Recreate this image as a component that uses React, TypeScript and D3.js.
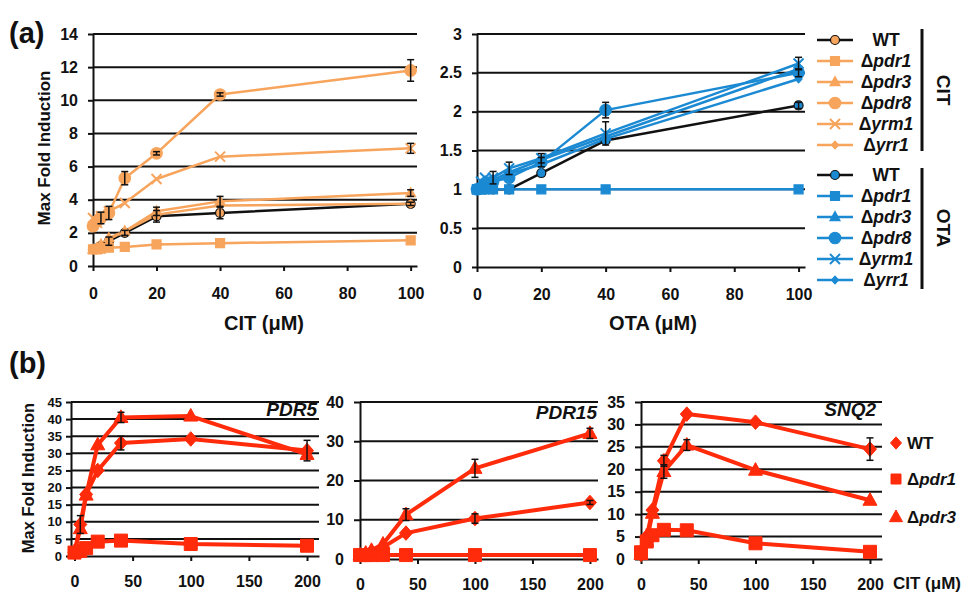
import React, { useEffect, useRef } from 'react';
import * as d3 from 'd3';

const FONT = '"Liberation Sans", Arial, Helvetica, sans-serif';
const ORANGE = '#F7A45C';
const BLUE = '#1B8AD3';
const RED = '#FF2B0A';

// ---------- panel (a) ----------
const concA = [0, 1.25, 2.5, 5, 10, 20, 40, 100];
const strainsA = ['WT', 'Δpdr1', 'Δpdr3', 'Δpdr8', 'Δyrm1', 'Δyrr1'];

// CIT fold induction
const citWT = [1, 1.05, 1.2, 1.5, 2.0, 3.0, 3.2, 3.75];
const citPdr1 = [1, 1.0, 1.05, 1.1, 1.15, 1.3, 1.38, 1.55];
const citPdr3 = [1, 1.1, 1.3, 1.7, 2.1, 3.3, 3.9, 4.4];
const citPdr8 = [2.4, 2.7, 2.9, 3.2, 5.3, 6.8, 10.35, 11.8];
const citYrm1 = [2.9, 2.6, 3.0, 3.3, 3.8, 5.25, 6.6, 7.1];
const citYrr1 = [1, 1.05, 1.2, 1.6, 2.1, 3.1, 3.65, 3.75];
const citErrWT = [0, 0, 0, 0.25, 0.15, 0.35, 0.35, 0.1];
const citErrPdr3 = [0, 0, 0, 0, 0, 0.25, 0.3, 0.2];
const citErrPdr8 = [0, 0, 0.35, 0.4, 0.4, 0.1, 0.1, 0.65];
const citErrYrm1 = [0, 0, 0, 0, 0, 0, 0, 0.3];
const noErrA = [0, 0, 0, 0, 0, 0, 0, 0];

// OTA fold induction
const otaWT = [1, 1, 1, 1, 1.0, 1.21, 1.63, 2.08];
const otaPdr1 = [1, 1, 1, 1, 1, 1, 1, 1];
const otaPdr3 = [1, 1.05, 1.1, 1.12, 1.22, 1.38, 1.68, 2.55];
const otaPdr8 = [1, 1.02, 1.08, 1.1, 1.15, 1.35, 2.02, 2.5];
const otaYrm1 = [1, 1.1, 1.15, 1.15, 1.27, 1.4, 1.72, 2.62];
const otaYrr1 = [1, 1.05, 1.12, 1.08, 1.2, 1.32, 1.65, 2.42];
const otaErrWT = [0, 0, 0, 0, 0, 0, 0, 0.04];
const otaErrPdr8 = [0, 0, 0, 0, 0, 0.06, 0.1, 0.05];
const otaErrYrm1 = [0, 0, 0, 0.08, 0.08, 0.06, 0.15, 0.08];

const yTicksCit = [0, 2, 4, 6, 8, 10, 12, 14];
const yTicksOta = [0, 0.5, 1, 1.5, 2, 2.5, 3];
const xTicksA = [0, 20, 40, 60, 80, 100];

// ---------- panel (b) ----------
const concB = [0, 5, 10, 20, 40, 100, 200];
const strainsB = ['WT', 'Δpdr1', 'Δpdr3'];

const pdr5WT = [1, 9.2, 18, 25, 33, 34.2, 30.8];
const pdr5Pdr1 = [1, 1.5, 2.3, 4.2, 4.5, 3.5, 3.0];
const pdr5Pdr3 = [1, 8, 17.8, 32.5, 40.5, 40.9, 29.7];
const pdr5ErrWT = [0, 2.6, 0, 0, 2, 0, 3];
const pdr5ErrPdr3 = [0, 0, 0, 0, 1.5, 0, 0];

const pdr15WT = [1, 1.3, 1.8, 3.0, 6.6, 10.3, 14.4];
const pdr15Pdr1 = [1, 1, 1, 1, 1, 1, 1];
const pdr15Pdr3 = [1, 1.5, 2.2, 3.8, 11.3, 23.1, 32.0];
const pdr15ErrWT = [0, 0, 0, 0, 0, 1.2, 0.5];
const pdr15ErrPdr3 = [0, 0, 0, 0, 1.5, 2.3, 1.3];

const snq2WT = [1, 5, 10.9, 21.9, 32.3, 30.5, 24.5];
const snq2Pdr1 = [1.5, 3.9, 5.3, 6.5, 6.4, 3.5, 1.6];
const snq2Pdr3 = [1, 4, 10.2, 19.5, 25.4, 19.8, 13.1];
const snq2ErrWT = [0, 0, 0, 1.2, 0, 0, 2.5];
const snq2ErrPdr3 = [0, 0, 0, 1.5, 1.2, 0, 0];
const noErrB = [0, 0, 0, 0, 0, 0, 0];

const xTicksB = [0, 50, 100, 150, 200];

type Series = {
  values: number[];
  err: number[];
  line: string;
  fill: string;
  stroke: string;
  shape: string;
  size: number;
};

const markerPath = (shape: string, s: number) => {
  if (shape === 'circle') return d3.symbol(d3.symbolCircle, Math.PI * (s / 2) * (s / 2))() as string;
  if (shape === 'square') return `M${-s / 2},${-s / 2}h${s}v${s}h${-s}Z`;
  if (shape === 'diamond') return `M0,${-s * 0.56}L${s / 2},0L0,${s * 0.56}L${-s / 2},0Z`;
  if (shape === 'triangle') {
    const h = s * 0.9;
    return `M0,${-h * 0.6}L${s / 2},${h * 0.4}L${-s / 2},${h * 0.4}Z`;
  }
  // x
  return `M${-s / 2},${-s / 2}L${s / 2},${s / 2}M${-s / 2},${s / 2}L${s / 2},${-s / 2}`;
};

const drawMarker = (g: any, cx: number, cy: number, st: Series, sw = 1) => {
  const p = g.append('path')
    .attr('d', markerPath(st.shape, st.size))
    .attr('transform', `translate(${cx},${cy})`);
  if (st.shape === 'x') {
    p.attr('fill', 'none').attr('stroke', st.fill).attr('stroke-width', 2);
  } else {
    p.attr('fill', st.fill).attr('stroke', st.stroke).attr('stroke-width', sw);
  }
};

function drawChart(root: any, cfg: any) {
  const g = root.append('g');
  const x = d3.scaleLinear().domain(cfg.xDomain).range(cfg.xRange);
  const y = d3.scaleLinear().domain(cfg.yDomain).range(cfg.yRange);

  // gridlines
  g.append('g').selectAll('line')
    .data(cfg.yTicks.filter((d: number) => d !== cfg.yDomain[0]))
    .join('line')
    .attr('x1', cfg.xRange[0]).attr('x2', cfg.xRange[1])
    .attr('y1', (d: number) => y(d)).attr('y2', (d: number) => y(d))
    .attr('stroke', '#111').attr('stroke-width', cfg.gridW);

  // y axis
  const ya = g.append('g')
    .attr('transform', `translate(${cfg.xRange[0]},0)`)
    .call(d3.axisLeft(y).tickValues(cfg.yTicks).tickSize(cfg.yTickSize)
      .tickSizeOuter(0).tickPadding(cfg.yPad).tickFormat((d: any) => String(d)));
  ya.select('.domain').attr('stroke', '#111').attr('stroke-width', cfg.gridW);
  ya.selectAll('.tick line').attr('stroke', '#111').attr('stroke-width', cfg.gridW);
  ya.selectAll('text').attr('font-family', FONT).attr('font-weight', 'bold')
    .attr('font-size', cfg.yFont).attr('fill', '#111');

  // x axis
  const xa = g.append('g')
    .attr('transform', `translate(0,${y(cfg.yDomain[0])})`)
    .call(d3.axisBottom(x).tickValues(cfg.xTicks).tickSize(5)
      .tickSizeOuter(0).tickPadding(cfg.xPad).tickFormat((d: any) => String(d)));
  xa.select('.domain').attr('stroke', '#111').attr('stroke-width', cfg.gridW);
  xa.selectAll('.tick line').attr('stroke', '#111').attr('stroke-width', cfg.gridW);
  xa.selectAll('text').attr('font-family', FONT).attr('font-weight', 'bold')
    .attr('font-size', cfg.xFont).attr('fill', '#111');

  const line = d3.line<number>()
    .x((d, i) => x(cfg.xs[i]))
    .y(d => y(d));

  cfg.series.forEach((s: Series) => {
    g.append('path')
      .datum(s.values)
      .attr('fill', 'none')
      .attr('stroke', s.line)
      .attr('stroke-width', cfg.lineW)
      .attr('stroke-linejoin', 'round')
      .attr('d', line);
  });

  cfg.series.forEach((s: Series) => {
    s.values.forEach((v, i) => drawMarker(g, x(cfg.xs[i]), y(v), s, cfg.markerSW));
  });

  // error bars
  cfg.series.forEach((s: Series) => {
    s.err.forEach((e, i) => {
      if (!e) return;
      const cx = x(cfg.xs[i]);
      const v = s.values[i];
      const eb = g.append('g').attr('stroke', '#111').attr('stroke-width', 1.5);
      eb.append('line').attr('x1', cx).attr('x2', cx).attr('y1', y(v - e)).attr('y2', y(v + e));
      eb.append('line').attr('x1', cx - 3.5).attr('x2', cx + 3.5).attr('y1', y(v + e)).attr('y2', y(v + e));
      eb.append('line').attr('x1', cx - 3.5).attr('x2', cx + 3.5).attr('y1', y(v - e)).attr('y2', y(v - e));
    });
  });
  return { x, y };
}

const styleA = (color: string, i: number): Omit<Series, 'values' | 'err'> => {
  const shapes = ['circle', 'square', 'triangle', 'circle', 'x', 'diamond'];
  const sizes = [9, 9, 10, 11.5, 10, 7];
  return {
    line: i === 0 ? '#111' : color,
    fill: color,
    stroke: i === 0 ? '#111' : color,
    shape: shapes[i],
    size: sizes[i],
  };
};

const styleB = (i: number): Omit<Series, 'values' | 'err'> => {
  const shapes = ['diamond', 'square', 'triangle'];
  const sizes = [13, 13, 14];
  return { line: RED, fill: RED, stroke: RED, shape: shapes[i], size: sizes[i] };
};

const App = () => {
  const svgRef = useRef<SVGSVGElement>(null);

  useEffect(() => {
    if (!svgRef.current) return;
    const svg = d3.select(svgRef.current);
    svg.selectAll('*').remove();

    svg.append('rect').attr('width', 961).attr('height', 594).attr('fill', '#fff');

    const txt = (x: number, y: number, s: string, size: number, opts: any = {}) =>
      svg.append('text')
        .attr('x', x).attr('y', y)
        .attr('font-family', FONT).attr('font-weight', 'bold')
        .attr('font-size', size)
        .attr('font-style', opts.italic ? 'italic' : 'normal')
        .attr('text-anchor', opts.anchor || 'start')
        .attr('fill', '#111')
        .attr('transform', opts.rotate ? `rotate(${opts.rotate},${x},${y})` : null)
        .text(s);

    // ---- panel (a) ----
    const citVals = [citWT, citPdr1, citPdr3, citPdr8, citYrm1, citYrr1];
    const citErrs = [citErrWT, noErrA, citErrPdr3, citErrPdr8, citErrYrm1, noErrA];
    const otaVals = [otaWT, otaPdr1, otaPdr3, otaPdr8, otaYrm1, otaYrr1];
    const otaErrs = [otaErrWT, noErrA, noErrA, otaErrPdr8, otaErrYrm1, noErrA];

    drawChart(svg, {
      xDomain: [0, 102], xRange: [93, 417],
      yDomain: [0, 14], yRange: [266, 34],
      yTicks: yTicksCit, xTicks: xTicksA, xs: concA,
      gridW: 2, lineW: 2.5, yTickSize: 5, yPad: 10, xPad: 17,
      yFont: 16, xFont: 16, markerSW: 1.2,
      series: citVals.map((v, i) => ({ values: v, err: citErrs[i], ...styleA(ORANGE, i) })),
    });

    drawChart(svg, {
      xDomain: [0, 102], xRange: [477, 805],
      yDomain: [0, 3], yRange: [267, 34],
      yTicks: yTicksOta, xTicks: xTicksA, xs: concA,
      gridW: 2, lineW: 2.5, yTickSize: 5, yPad: 10, xPad: 17,
      yFont: 16, xFont: 16, markerSW: 1.2,
      series: otaVals.map((v, i) => ({ values: v, err: otaErrs[i], ...styleA(BLUE, i) })),
    });

    txt(9, 43, '(a)', 29);
    txt(44, 148, 'Max Fold Induction', 17, { anchor: 'middle', rotate: -90 }).attr('dy', '0.35em');
    txt(264, 330, 'CIT (μM)', 20, { anchor: 'middle' });
    txt(653, 330, 'OTA (μM)', 20, { anchor: 'middle' });

    // legend (a)
    const legA = svg.append('g');
    const legendBlock = (color: string, y0: number) => {
      strainsA.forEach((name, i) => {
        const st = { values: [], err: [], ...styleA(color, i) } as Series;
        const yy = y0 + i * 21;
        legA.append('line').attr('x1', 817).attr('x2', 853).attr('y1', yy).attr('y2', yy)
          .attr('stroke', st.line).attr('stroke-width', 2.5);
        drawMarker(legA, 835, yy, st, 1.2);
        const t = legA.append('text')
          .attr('x', 886).attr('y', yy).attr('dy', '0.35em')
          .attr('text-anchor', 'middle')
          .attr('font-family', FONT).attr('font-weight', 'bold').attr('font-size', 17.5)
          .attr('fill', '#111');
        if (name === 'WT') t.text(name);
        else {
          t.append('tspan').text('Δ');
          t.append('tspan').attr('font-style', 'italic').text(name.slice(1));
        }
      });
    };
    legendBlock(ORANGE, 40);
    legendBlock(BLUE, 175);
    legA.append('line').attr('x1', 922).attr('x2', 922).attr('y1', 29).attr('y2', 151)
      .attr('stroke', '#111').attr('stroke-width', 3);
    legA.append('line').attr('x1', 922).attr('x2', 922).attr('y1', 168).attr('y2', 289)
      .attr('stroke', '#111').attr('stroke-width', 3);
    txt(944, 90, 'CIT', 19, { anchor: 'middle', rotate: 90 }).attr('dy', '0.35em');
    txt(944, 228, 'OTA', 19, { anchor: 'middle', rotate: 90 }).attr('dy', '0.35em');

    // ---- panel (b) ----
    const bSeries = (vals: number[][], errs: number[][]) =>
      vals.map((v, i) => ({ values: v, err: errs[i], ...styleB(i) }));

    drawChart(svg, {
      xDomain: [-3, 210.3], xRange: [71, 319],
      yDomain: [0, 45], yRange: [556, 402],
      yTicks: d3.range(0, 46, 5), xTicks: xTicksB, xs: concB,
      gridW: 2, lineW: 4, yTickSize: 5, yPad: 4, xPad: 15,
      yFont: 13, xFont: 16, markerSW: 1,
      series: bSeries([pdr5WT, pdr5Pdr1, pdr5Pdr3], [pdr5ErrWT, noErrB, pdr5ErrPdr3]),
    });
    drawChart(svg, {
      xDomain: [0, 207], xRange: [360, 598],
      yDomain: [0, 40], yRange: [559, 402],
      yTicks: d3.range(0, 41, 10), xTicks: xTicksB, xs: concB,
      gridW: 2, lineW: 4, yTickSize: 6, yPad: 10, xPad: 15,
      yFont: 16, xFont: 16, markerSW: 1,
      series: bSeries([pdr15WT, pdr15Pdr1, pdr15Pdr3], [pdr15ErrWT, noErrB, pdr15ErrPdr3]),
    });
    drawChart(svg, {
      xDomain: [0, 210.5], xRange: [641, 882],
      yDomain: [0, 35], yRange: [559, 402],
      yTicks: d3.range(0, 36, 5), xTicks: xTicksB, xs: concB,
      gridW: 2, lineW: 4, yTickSize: 6, yPad: 10, xPad: 15,
      yFont: 16, xFont: 16, markerSW: 1,
      series: bSeries([snq2WT, snq2Pdr1, snq2Pdr3], [snq2ErrWT, noErrB, snq2ErrPdr3]),
    });

    txt(9, 373, '(b)', 29);
    txt(28, 478, 'Max Fold Induction', 16.5, { anchor: 'middle', rotate: -90 }).attr('dy', '0.35em');
    txt(317, 416, 'PDR5', 19, { anchor: 'end', italic: true });
    txt(597, 419, 'PDR15', 19, { anchor: 'end', italic: true });
    txt(876, 416, 'SNQ2', 19, { anchor: 'end', italic: true });
    txt(893, 589, 'CIT (μM)', 17);

    // legend (b)
    const legB = svg.append('g');
    const legSizes = [11, 10, 13];
    strainsB.forEach((name, i) => {
      const yy = [443, 479, 517][i];
      const st = { values: [], err: [], ...styleB(i), size: legSizes[i] } as Series;
      drawMarker(legB, 896, yy, st, 1);
      const t = legB.append('text')
        .attr('x', 907).attr('y', yy).attr('dy', '0.35em')
        .attr('font-family', FONT).attr('font-weight', 'bold').attr('font-size', 17)
        .attr('fill', '#111');
      if (name === 'WT') t.text(name);
      else {
        t.append('tspan').text('Δ');
        t.append('tspan').attr('font-style', 'italic').text(name.slice(1));
      }
    });
  }, []);

  return (
    <svg
      ref={svgRef}
      width={961}
      height={594}
      style={{ position: 'absolute', left: 0, top: 0 }}
    />
  );
};

export default App;
